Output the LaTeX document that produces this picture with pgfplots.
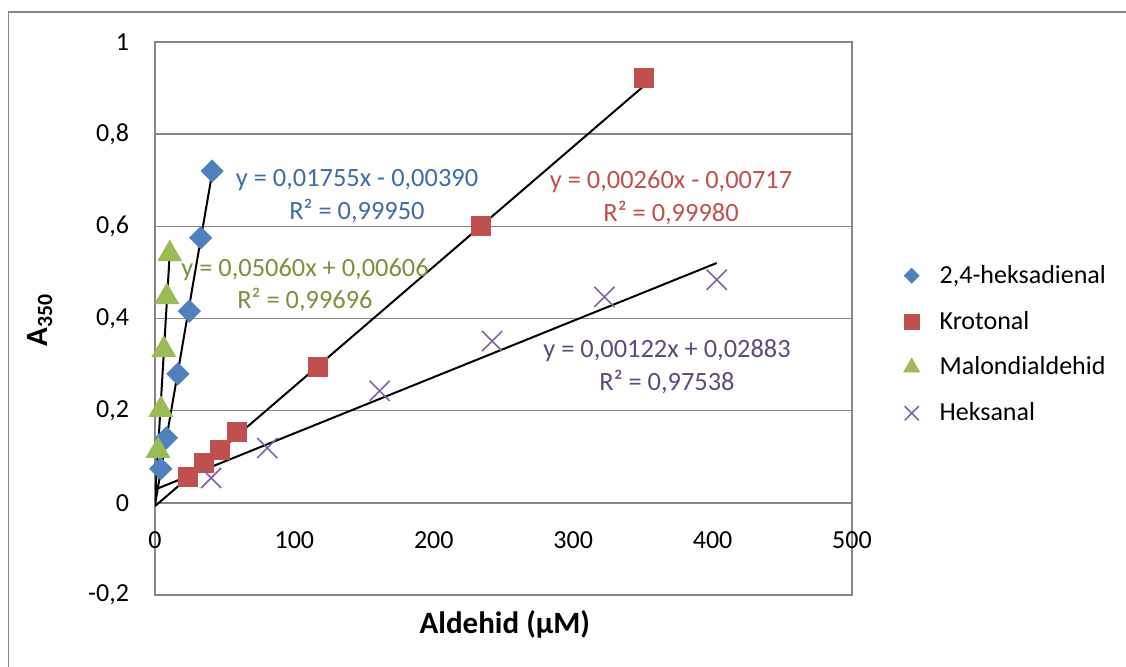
\documentclass[border=0pt]{standalone}
\usepackage{pgfplots}
\pgfplotsset{compat=1.18}
\usepackage{fontspec}
\setmainfont{Carlito}
\definecolor{gridgray}{HTML}{868686}
\definecolor{sblue}{HTML}{4F81BD}
\definecolor{sred}{HTML}{C0504D}
\definecolor{sgreen}{HTML}{9BBB59}
\definecolor{spurple}{HTML}{8064A2}
\definecolor{tblue}{HTML}{3F6CA6}
\definecolor{tred}{HTML}{C0504D}
\definecolor{tgreen}{HTML}{77933C}
\definecolor{tpurple}{HTML}{5F497A}

% one px of the reference = 0.5pt
\begin{document}
\begin{tikzpicture}
\useasboundingbox (-77.5pt,-35.5pt) rectangle (485.5pt,297.5pt);
\draw[gridgray, line width=0.75pt] (-73.25pt,-40pt) -- (-73.25pt,291.5pt) -- (490pt,291.5pt);
\begin{axis}[
  scale only axis, width=348.5pt, height=276.5pt,
  xmin=0, xmax=500, ymin=-0.2, ymax=1,
  axis line style={gridgray, line width=0.75pt},
  ymajorgrids, grid style={gridgray, line width=0.75pt},
  xtick={0,100,200,300,400,500}, xticklabels={0,100,200,300,400,500},
  ytick={-0.2,0,0.2,0.4,0.6,0.8,1},
  yticklabels={{-0,2},0,{0,2},{0,4},{0,6},{0,8},1},
  major tick length=0pt,
  tick label style={font=\fontsize{13}{15}\selectfont, text=black},
  xticklabel style={yshift=35pt},
  yticklabel style={xshift=-9.5pt},
  xlabel={\bfseries Aldehid (µM)},
  ylabel={\bfseries A\textsubscript{350}},
  label style={font=\fontsize{15.5}{18}\selectfont},
  xlabel style={at={(axis description cs:0.502,-0.054)}, anchor=center},
  ylabel style={at={(axis description cs:-0.165,0.497)}, anchor=center},
  legend style={draw=none, fill=none, at={(axis description cs:1.065,0.453)},
    anchor=west, font=\fontsize{13}{15}\selectfont, row sep=8.4pt, column sep=8pt},
  legend cell align=left,
]
% 2,4-heksadienal
\addplot[only marks, mark=square*, mark size=3.9pt,
  mark options={rotate=45, fill=sblue, draw=sblue},
  legend image post style={mark size=2.6pt}]
  coordinates {(4.1,0.074)(8.2,0.141)(16.4,0.280)(24.6,0.416)(32.8,0.575)(41,0.720)};
\addlegendentry{2,4-heksadienal}
% Krotonal
\addplot[only marks, mark=square*, mark size=4.75pt,
  mark options={fill=sred, draw=sred},
  legend image post style={mark size=3.8pt}]
  coordinates {(23.4,0.056)(35.1,0.087)(46.8,0.115)(58.5,0.154)(117,0.295)(234,0.601)(351,0.922)};
\addlegendentry{Krotonal}
% Malondialdehid
\addplot[only marks, mark=triangle*, mark size=6.8pt,
  mark options={fill=sgreen, draw=sgreen},
  legend image post style={mark size=4.6pt}]
  coordinates {(2.12,0.113)(4.24,0.202)(6.36,0.332)(8.48,0.447)(10.6,0.540)};
\addlegendentry{Malondialdehid}
% Heksanal
\addplot[only marks, mark=x, mark size=7.1pt,
  mark options={draw=spurple, line width=0.8pt},
  legend image post style={mark size=5pt}]
  coordinates {(40.3,0.054)(80.6,0.119)(161.2,0.243)(241.8,0.351)(322.4,0.447)(403,0.484)};
\addlegendentry{Heksanal}

% linear trendlines (end points of the fitted lines)
\addplot[black, line width=1pt, forget plot] coordinates {(0,-0.0039)(41,0.7157)};
\addplot[black, line width=1pt, forget plot] coordinates {(0,-0.00717)(351,0.9054)};
\addplot[black, line width=1pt, forget plot] coordinates {(0,0.00606)(10.6,0.5424)};
\addplot[black, line width=1pt, forget plot] coordinates {(0,0.02883)(403,0.5205)};

\begin{scope}[every node/.style={font=\fontsize{13.2}{15}\selectfont, anchor=center, inner sep=0pt}]
\node[text=tblue] at (axis cs:144.9,0.700) {y = 0,01755x - 0,00390};
\node[text=tblue] at (axis cs:144.9,0.633) {R² = 0,99950};
\node[text=tred] at (axis cs:370.2,0.696) {y = 0,00260x - 0,00717};
\node[text=tred] at (axis cs:370.2,0.629) {R² = 0,99980};
\node[text=tgreen] at (axis cs:107.6,0.505) {y = 0,05060x + 0,00606};
\node[text=tgreen] at (axis cs:107.6,0.440) {R² = 0,99696};
\node[text=tpurple] at (axis cs:367.3,0.330) {y = 0,00122x + 0,02883};
\node[text=tpurple] at (axis cs:367.3,0.262) {R² = 0,97538};
\end{scope}
\end{axis}
\end{tikzpicture}
\end{document}
